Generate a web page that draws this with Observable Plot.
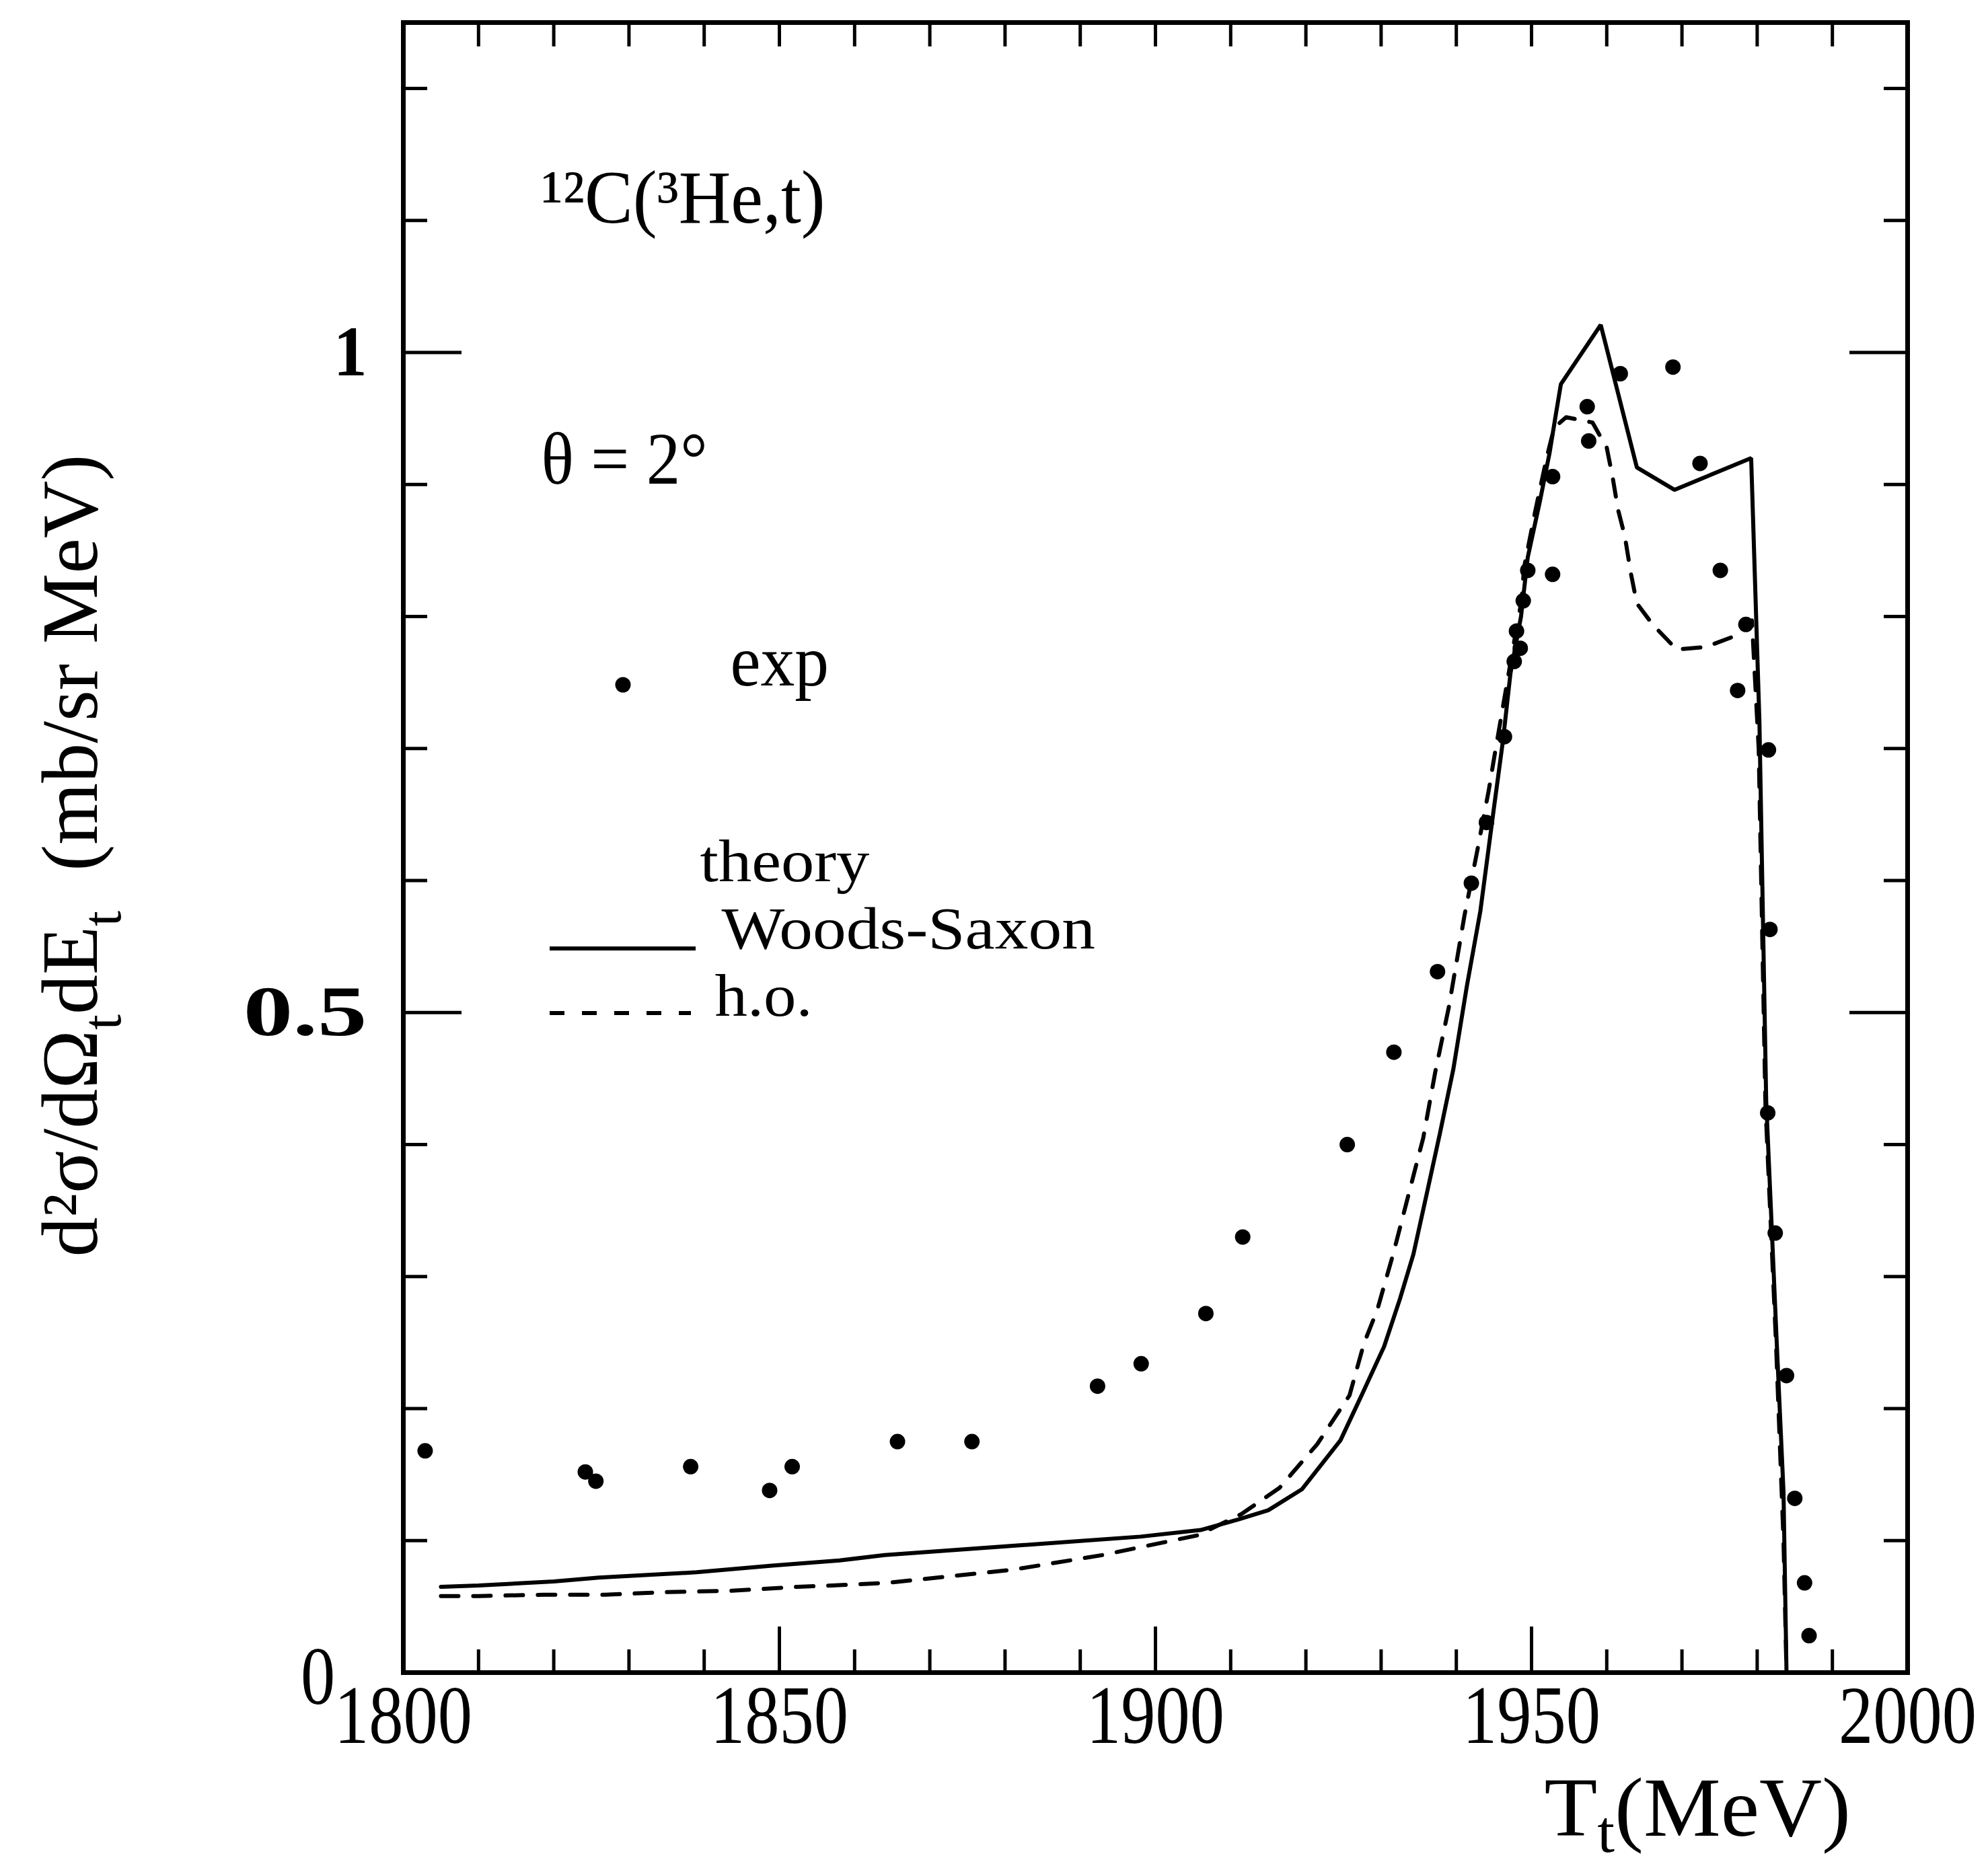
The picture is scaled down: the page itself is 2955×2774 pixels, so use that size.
<!DOCTYPE html>
<html><head><meta charset="utf-8">
<script src="https://cdn.jsdelivr.net/npm/d3@7"></script>
<script src="https://cdn.jsdelivr.net/npm/@observablehq/plot@0.6"></script>
<style>html,body{margin:0;padding:0;background:#fff;overflow:hidden}</style>
</head><body><div id="chart"></div>
<script>
// experimental points
const expT = [1802.9, 1824.2, 1825.6, 1838.2, 1848.7, 1851.7, 1865.7, 1875.6, 1892.3, 1898.1, 1906.7, 1911.6, 1925.5, 1931.7, 1937.5, 1942.0, 1944.0, 1946.4, 1947.7, 1948.5, 1948.0, 1948.9, 1949.5, 1952.8, 1952.8, 1957.6, 1957.4, 1961.8, 1968.8, 1972.4, 1975.1, 1977.4, 1978.5, 1981.5, 1981.7, 1981.4, 1982.4, 1983.9, 1985.0, 1986.3, 1986.9];
const expV = [0.168, 0.152, 0.145, 0.156, 0.138, 0.156, 0.175, 0.175, 0.217, 0.234, 0.272, 0.330, 0.400, 0.470, 0.531, 0.598, 0.644, 0.709, 0.766, 0.776, 0.789, 0.812, 0.835, 0.832, 0.906, 0.933, 0.959, 0.984, 0.989, 0.916, 0.835, 0.744, 0.794, 0.699, 0.563, 0.424, 0.333, 0.225, 0.132, 0.068, 0.028];
// theory, Woods-Saxon (solid)
const wsT = [1805, 1810, 1820, 1826, 1839, 1849, 1858, 1864, 1881, 1898, 1906, 1911, 1915, 1919.5, 1924.6, 1927.4, 1930.4, 1932.5, 1934.3, 1936.0, 1937.8, 1939.6, 1941.4, 1943.2, 1945.0, 1946.2, 1947.2, 1948.6, 1949.5, 1951.1, 1952.4, 1953.2, 1953.9, 1959.2, 1964.0, 1969.0, 1979.2, 1980.3, 1981.2, 1982.6, 1983.5, 1983.9];
const wsV = [0.065, 0.066, 0.069, 0.072, 0.076, 0.081, 0.085, 0.089, 0.096, 0.103, 0.108, 0.116, 0.123, 0.139, 0.176, 0.210, 0.247, 0.283, 0.317, 0.361, 0.408, 0.457, 0.520, 0.577, 0.655, 0.706, 0.757, 0.800, 0.845, 0.887, 0.924, 0.952, 0.976, 1.021, 0.913, 0.896, 0.920, 0.720, 0.433, 0.250, 0.137, 0];
// theory, h.o. (dashed)
const hoT = [1805, 1810, 1818.6, 1826.8, 1835.1, 1843.7, 1852.4, 1857, 1864.3, 1881.1, 1892.9, 1905.6, 1911.4, 1916.5, 1921.5, 1925.8, 1927.7, 1929.5, 1931.6, 1933.6, 1935.6, 1937.2, 1939.0, 1941.1, 1942.8, 1944.3, 1945.0, 1947.9, 1948.7, 1949.0, 1950.5, 1952.0, 1953.0, 1954.6, 1958.1, 1960.0, 1960.8, 1961.5, 1962.4, 1963.2, 1964.0, 1966.1, 1969.3, 1973.2, 1976.9, 1979.3, 1980.2, 1981.1, 1982.5, 1983.5, 1983.9];
const hoV = [0.058, 0.058, 0.059, 0.059, 0.061, 0.062, 0.065, 0.066, 0.068, 0.078, 0.089, 0.104, 0.120, 0.140, 0.173, 0.210, 0.249, 0.275, 0.317, 0.361, 0.405, 0.455, 0.504, 0.574, 0.623, 0.668, 0.692, 0.788, 0.813, 0.837, 0.880, 0.920, 0.943, 0.951, 0.947, 0.928, 0.905, 0.881, 0.861, 0.833, 0.810, 0.794, 0.775, 0.777, 0.785, 0.797, 0.700, 0.430, 0.250, 0.100, 0];

// ticks
const xTickLabels = [1800, 1850, 1900, 1950, 2000];
const xMajorTicks = [1850, 1900, 1950];
const xMinorTicks = [1810, 1820, 1830, 1840, 1860, 1870, 1880, 1890, 1910, 1920, 1930, 1940, 1960, 1970, 1980, 1990];
const xTopTicks = [1810, 1820, 1830, 1840, 1850, 1860, 1870, 1880, 1890, 1900, 1910, 1920, 1930, 1940, 1950, 1960, 1970, 1980, 1990];
const yMajorTicks = [0.5, 1.0];
const yMinorTicks = [0.1, 0.2, 0.3, 0.4, 0.6, 0.7, 0.8, 0.9, 1.1, 1.2];
const yTickValues = [0.5, 1];
const yTickText = ["0.5", "1"];
const zeroLabel = ["0"];

const expData = expT.map((t, i) => ({t, v: expV[i]}));
const wsData = wsT.map((t, i) => ({t, v: wsV[i]}));
const hoData = hoT.map((t, i) => ({t, v: hoV[i]}));

const tickOpts = {fill: "none", strokeWidth: 5, label: null};
const FONT = "Liberation Serif";
const tag = (k) => () => k;

const chart = Plot.plot({
  width: 2955, height: 2774,
  marginLeft: 599, marginRight: 120, marginTop: 33, marginBottom: 288,
  x: {domain: [1800, 2000]},
  y: {domain: [0, 1.25]},
  style: {fontFamily: FONT, background: "white", color: "black"},
  marks: [
    Plot.axisX(xMinorTicks, {anchor: "bottom", tickSize: -34, ...tickOpts}),
    Plot.axisX(xMajorTicks, {anchor: "bottom", tickSize: -68, ...tickOpts}),
    Plot.axisX(xTopTicks, {anchor: "top", tickSize: -35, ...tickOpts}),
    Plot.axisY(yMinorTicks, {anchor: "left", tickSize: -36, ...tickOpts}),
    Plot.axisY(yMajorTicks, {anchor: "left", tickSize: -87, ...tickOpts}),
    Plot.axisY(yMinorTicks, {anchor: "right", tickSize: -36, ...tickOpts}),
    Plot.axisY(yMajorTicks, {anchor: "right", tickSize: -87, ...tickOpts}),
    Plot.frame({stroke: "black", strokeWidth: 7}),
    Plot.line(wsData, {x: "t", y: "v", stroke: "black", strokeWidth: 6, strokeLinejoin: "miter"}),
    Plot.line(hoData, {x: "t", y: "v", stroke: "black", strokeWidth: 6, strokeDasharray: "26,22"}),
    Plot.dot(expData, {x: "t", y: "v", r: 11.5, fill: "black", stroke: "none"}),
    // tick labels
    Plot.text(xTickLabels, {x: d => d, frameAnchor: "bottom", dy: 104, lineAnchor: "bottom", text: d => String(d), fontSize: 122, ariaLabel: tag("xtick")}),
    Plot.text(zeroLabel, {frameAnchor: "bottom-left", dx: -127, dy: 46, lineAnchor: "bottom", textAnchor: "middle", fontSize: 122, ariaLabel: tag("zero")}),
    Plot.text(yTickValues, {y: d => d, frameAnchor: "left", dx: -54, textAnchor: "end", lineAnchor: "middle", text: (d, i) => yTickText[i], fontSize: 105, fontWeight: "bold", ariaLabel: tag("ytick")}),
    // axis titles
    Plot.text(["T(MeV)"], {frameAnchor: "bottom-right", dx: -540, dy: 242, textAnchor: "start", lineAnchor: "bottom", fontSize: 124, ariaLabel: tag("xtitle")}),
    Plot.text(["d²σ/dΩdE (mb/sr MeV)"], {frameAnchor: "left", dx: -456, dy: 12, rotate: -90, textAnchor: "middle", lineAnchor: "bottom", fontSize: 118, ariaLabel: tag("ytitle")}),
    // annotations
    Plot.text(["¹²C(³He,t)"], {frameAnchor: "top-left", dx: 205, dy: 297, textAnchor: "start", lineAnchor: "bottom", fontSize: 112, ariaLabel: tag("reaction")}),
    Plot.text(["θ = 2°"], {frameAnchor: "top-left", dx: 205, dy: 685, textAnchor: "start", lineAnchor: "bottom", fontSize: 110, ariaLabel: tag("theta")}),
    Plot.text(["exp"], {frameAnchor: "top-left", dx: 486, dy: 985, textAnchor: "start", lineAnchor: "bottom", fontSize: 108, ariaLabel: tag("exp")}),
    Plot.text(["theory"], {frameAnchor: "top-left", dx: 441, dy: 1276, textAnchor: "start", lineAnchor: "bottom", fontSize: 88, ariaLabel: tag("theory")}),
    Plot.text(["Woods-Saxon"], {frameAnchor: "top-left", dx: 473, dy: 1376, textAnchor: "start", lineAnchor: "bottom", fontSize: 88, ariaLabel: tag("ws")}),
    Plot.text(["h.o."], {frameAnchor: "top-left", dx: 463, dy: 1476, textAnchor: "start", lineAnchor: "bottom", fontSize: 88, ariaLabel: tag("ho")})
  ]
});
document.getElementById("chart").appendChild(chart);

const svg = d3.select(chart);
function scaleText(label, sx) {
  svg.selectAll(`text[aria-label="${label}"]`).each(function () {
    const s = typeof sx === "function" ? sx(this.textContent) : sx;
    const t = this.getAttribute("transform") || "";
    this.setAttribute("transform", t + ` scale(${s},1)`);
  });
}
function richText(label, fs, parts) {
  svg.selectAll(`text[aria-label="${label}"]`).each(function () {
    const el = d3.select(this);
    el.text(null).style("white-space", "pre");
    let prev = 0;
    for (const [s, shift, k] of parts) {
      el.append("tspan").attr("dy", (shift - prev) * fs).attr("font-size", fs * k).text(s);
      prev = shift;
    }
  });
}
richText("xtitle", 124, [["T", 0, 1], ["t", 0.2, 0.72], ["(MeV)", 0, 1]]);
richText("ytitle", 118, [["d²σ/dΩ", 0, 1], ["t", 0.3, 0.7], ["dE", 0, 1], ["t", 0.3, 0.7], ["  (mb/sr MeV)", 0, 1]]);
scaleText("xtick", 0.84);
scaleText("zero", 0.84);
scaleText("ytick", s => (s === "1" ? 0.95 : 1.4));
scaleText("xtitle", 1.04);
scaleText("theta", 0.92);
scaleText("exp", 0.94);
scaleText("theory", 1.12);
scaleText("ws", 1.13);
scaleText("ho", 1.1);
scaleText("reaction", 0.96);

// legend symbols, placed relative to the frame
const [x0] = chart.scale("x").range;
const [, y0] = chart.scale("y").range;
const leg = svg.append("g").attr("aria-label", "legend-symbols");
leg.append("circle").attr("cx", x0 + 327).attr("cy", y0 + 985).attr("r", 11.5).attr("fill", "black");
leg.append("line").attr("x1", x0 + 218).attr("x2", x0 + 435).attr("y1", y0 + 1377).attr("y2", y0 + 1377)
  .attr("stroke", "black").attr("stroke-width", 6);
leg.append("line").attr("x1", x0 + 218).attr("x2", x0 + 428).attr("y1", y0 + 1473).attr("y2", y0 + 1473)
  .attr("stroke", "black").attr("stroke-width", 6).attr("stroke-dasharray", "22,26");
</script>
</body></html>
